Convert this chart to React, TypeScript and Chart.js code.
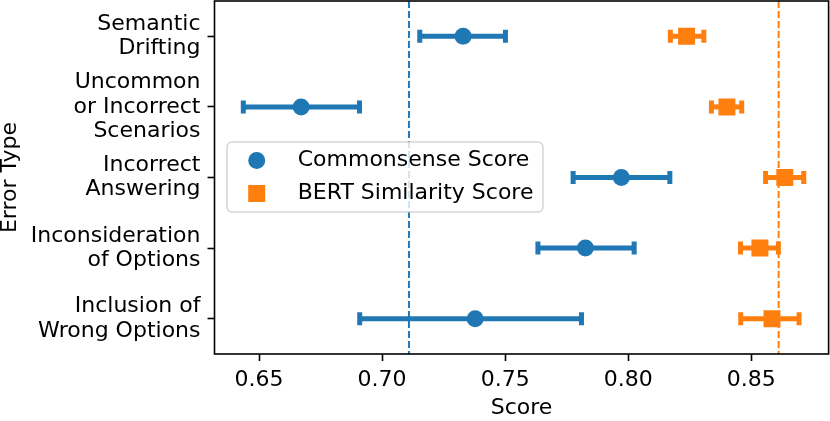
import React, { useEffect, useRef } from "react";
import { Chart, registerables } from "chart.js";

Chart.register(...registerables);

const categories: string[][] = [
  ["Semantic", "Drifting"],
  ["Uncommon", "or Incorrect", "Scenarios"],
  ["Incorrect", "Answering"],
  ["Inconsideration", "of Options"],
  ["Inclusion of", "Wrong Options"],
];
const commonsenseMean = [0.7329, 0.6671, 0.7972, 0.7826, 0.7378];
const commonsenseLow = [0.7153, 0.6436, 0.7776, 0.7633, 0.6909];
const commonsenseHigh = [0.7501, 0.6908, 0.8169, 0.8024, 0.781];
const bertMean = [0.8237, 0.8401, 0.8636, 0.8535, 0.8584];
const bertLow = [0.8171, 0.8338, 0.8558, 0.8456, 0.8457];
const bertHigh = [0.8307, 0.8461, 0.8713, 0.861, 0.8694];
const referenceLines = [0.7109, 0.8611];
const xTicks = [0.65, 0.7, 0.75, 0.8, 0.85];
const xTickLabels = ["0.65", "0.70", "0.75", "0.80", "0.85"];
const seriesNames = ["Commonsense Score", "BERT Similarity Score"];

const BLUE = "#1f77b4";
const ORANGE = "#ff7f0e";
const FONT = "DejaVu Sans";
const FS = 22;

const errorPlugin = {
  id: "errbars",
  beforeDatasetsDraw(chart: any) {
    const { ctx, chartArea, scales } = chart;
    const xs = scales.x;
    const ys = scales.y;
    ctx.save();
    const refColors = [BLUE, ORANGE];
    referenceLines.forEach((v, i) => {
      const px = xs.getPixelForValue(v);
      ctx.strokeStyle = refColors[i];
      ctx.lineWidth = 2;
      ctx.setLineDash([7, 3]);
      ctx.beginPath();
      ctx.moveTo(px, chartArea.top);
      ctx.lineTo(px, chartArea.bottom);
      ctx.stroke();
    });
    ctx.setLineDash([]);
    const groups = [
      { low: commonsenseLow, high: commonsenseHigh, color: BLUE },
      { low: bertLow, high: bertHigh, color: ORANGE },
    ];
    groups.forEach((g) => {
      ctx.strokeStyle = g.color;
      g.low.forEach((lo, j) => {
        const x1 = xs.getPixelForValue(lo);
        const x2 = xs.getPixelForValue(g.high[j]);
        const y = ys.getPixelForValue(j);
        ctx.lineWidth = 5;
        ctx.lineCap = "butt";
        ctx.beginPath();
        ctx.moveTo(x1, y);
        ctx.lineTo(x2, y);
        ctx.stroke();
        ctx.lineWidth = 5;
        ctx.beginPath();
        ctx.moveTo(x1, y - 6.5);
        ctx.lineTo(x1, y + 6.5);
        ctx.moveTo(x2, y - 6.5);
        ctx.lineTo(x2, y + 6.5);
        ctx.stroke();
      });
    });
    ctx.restore();
  },
  afterDraw(chart: any) {
    const { ctx, chartArea } = chart;
    ctx.save();
    ctx.strokeStyle = "#000";
    ctx.lineWidth = 1.6;
    ctx.strokeRect(chartArea.left, chartArea.top, chartArea.right - chartArea.left, chartArea.bottom - chartArea.top);
    ctx.font = `${FS}px "${FONT}"`;
    const tw = Math.max(...seriesNames.map((s) => ctx.measureText(s).width));
    const bx = chartArea.left + 12.5;
    const by = chartArea.top + 141;
    const textX = bx + 70.7;
    const bw = 70.7 + tw + 9.5;
    const bh = 70;
    ctx.beginPath();
    (ctx as any).roundRect(bx, by, bw, bh, 5);
    ctx.fillStyle = "rgba(255,255,255,0.8)";
    ctx.fill();
    ctx.strokeStyle = "rgba(204,204,204,0.8)";
    ctx.lineWidth = 1.6;
    ctx.stroke();
    const rows = [by + 18.5, by + 51.5];
    ctx.fillStyle = BLUE;
    ctx.beginPath();
    ctx.arc(bx + 29.7, rows[0], 8.5, 0, Math.PI * 2);
    ctx.fill();
    ctx.fillStyle = ORANGE;
    ctx.fillRect(bx + 29.7 - 8.5, rows[1] - 8.5, 17, 17);
    ctx.fillStyle = "#000";
    ctx.textAlign = "left";
    ctx.textBaseline = "middle";
    seriesNames.forEach((s, i) => ctx.fillText(s, textX, rows[i]));
    ctx.restore();
  },
};

export default function App() {
  const ref = useRef<HTMLCanvasElement>(null);
  useEffect(() => {
    document.body.style.margin = "0";
    Chart.defaults.font.family = FONT;
    Chart.defaults.color = "#000";
    const chart = new Chart(ref.current as HTMLCanvasElement, {
      type: "scatter",
      data: {
        datasets: [
          {
            label: seriesNames[0],
            data: commonsenseMean.map((x, i) => ({ x, y: i })),
            pointStyle: "circle",
            pointRadius: 8.5,
            backgroundColor: BLUE,
            borderColor: BLUE,
            borderWidth: 0,
          },
          {
            label: seriesNames[1],
            data: bertMean.map((x, i) => ({ x, y: i })),
            pointStyle: "rect",
            pointRadius: 12,
            backgroundColor: ORANGE,
            borderColor: ORANGE,
            borderWidth: 0,
          },
        ],
      },
      options: {
        animation: false,
        responsive: true,
        maintainAspectRatio: false,
        events: [],
        layout: { autoPadding: false, padding: { top: 1, right: 1.4, left: 0, bottom: 0 } },
        plugins: { legend: { display: false }, tooltip: { enabled: false } },
        scales: {
          x: {
            type: "linear",
            min: 0.6319,
            max: 0.8814,
            afterBuildTicks: (s: any) => {
              s.ticks = xTicks.map((v) => ({ value: v }));
            },
            afterFit: (s: any) => {
              s.height = 67;
              s.paddingLeft = 0;
              s.paddingRight = 0;
            },
            ticks: {
              font: { size: FS },
              padding: 6,
              maxRotation: 0,
              callback: (v: any) => {
                const i = xTicks.findIndex((t) => Math.abs(t - v) < 1e-9);
                return i >= 0 ? xTickLabels[i] : "";
              },
            },
            grid: { display: true, drawOnChartArea: false, drawTicks: true, tickLength: 7, tickWidth: 1.6, color: "#000" },
            border: { display: false },
            title: { display: true, text: "Score", font: { size: FS, lineHeight: 1.15 }, padding: { top: 0, bottom: 0 } },
          },
          y: {
            type: "linear",
            reverse: true,
            min: -0.5,
            max: 4.5,
            afterBuildTicks: (s: any) => {
              s.ticks = categories.map((_, i) => ({ value: i }));
            },
            afterFit: (s: any) => {
              s.width = 214.5;
              s.paddingTop = 0;
              s.paddingBottom = 0;
            },
            ticks: {
              font: { size: FS, lineHeight: 1.11 },
              padding: 7,
              callback: (v: any) => categories[Math.round(v)] ?? "",
            },
            grid: { display: true, drawOnChartArea: false, drawTicks: true, tickLength: 7, tickWidth: 1.6, color: "#000" },
            border: { display: false },
            title: { display: true, text: "Error Type", font: { size: FS, lineHeight: 0.95 }, padding: { top: 0, bottom: 0 } },
          },
        },
      },
      plugins: [errorPlugin],
    });
    return () => chart.destroy();
  }, []);
  return (
    <div style={{ width: 830, height: 421, position: "relative" }}>
      <canvas ref={ref} />
    </div>
  );
}
